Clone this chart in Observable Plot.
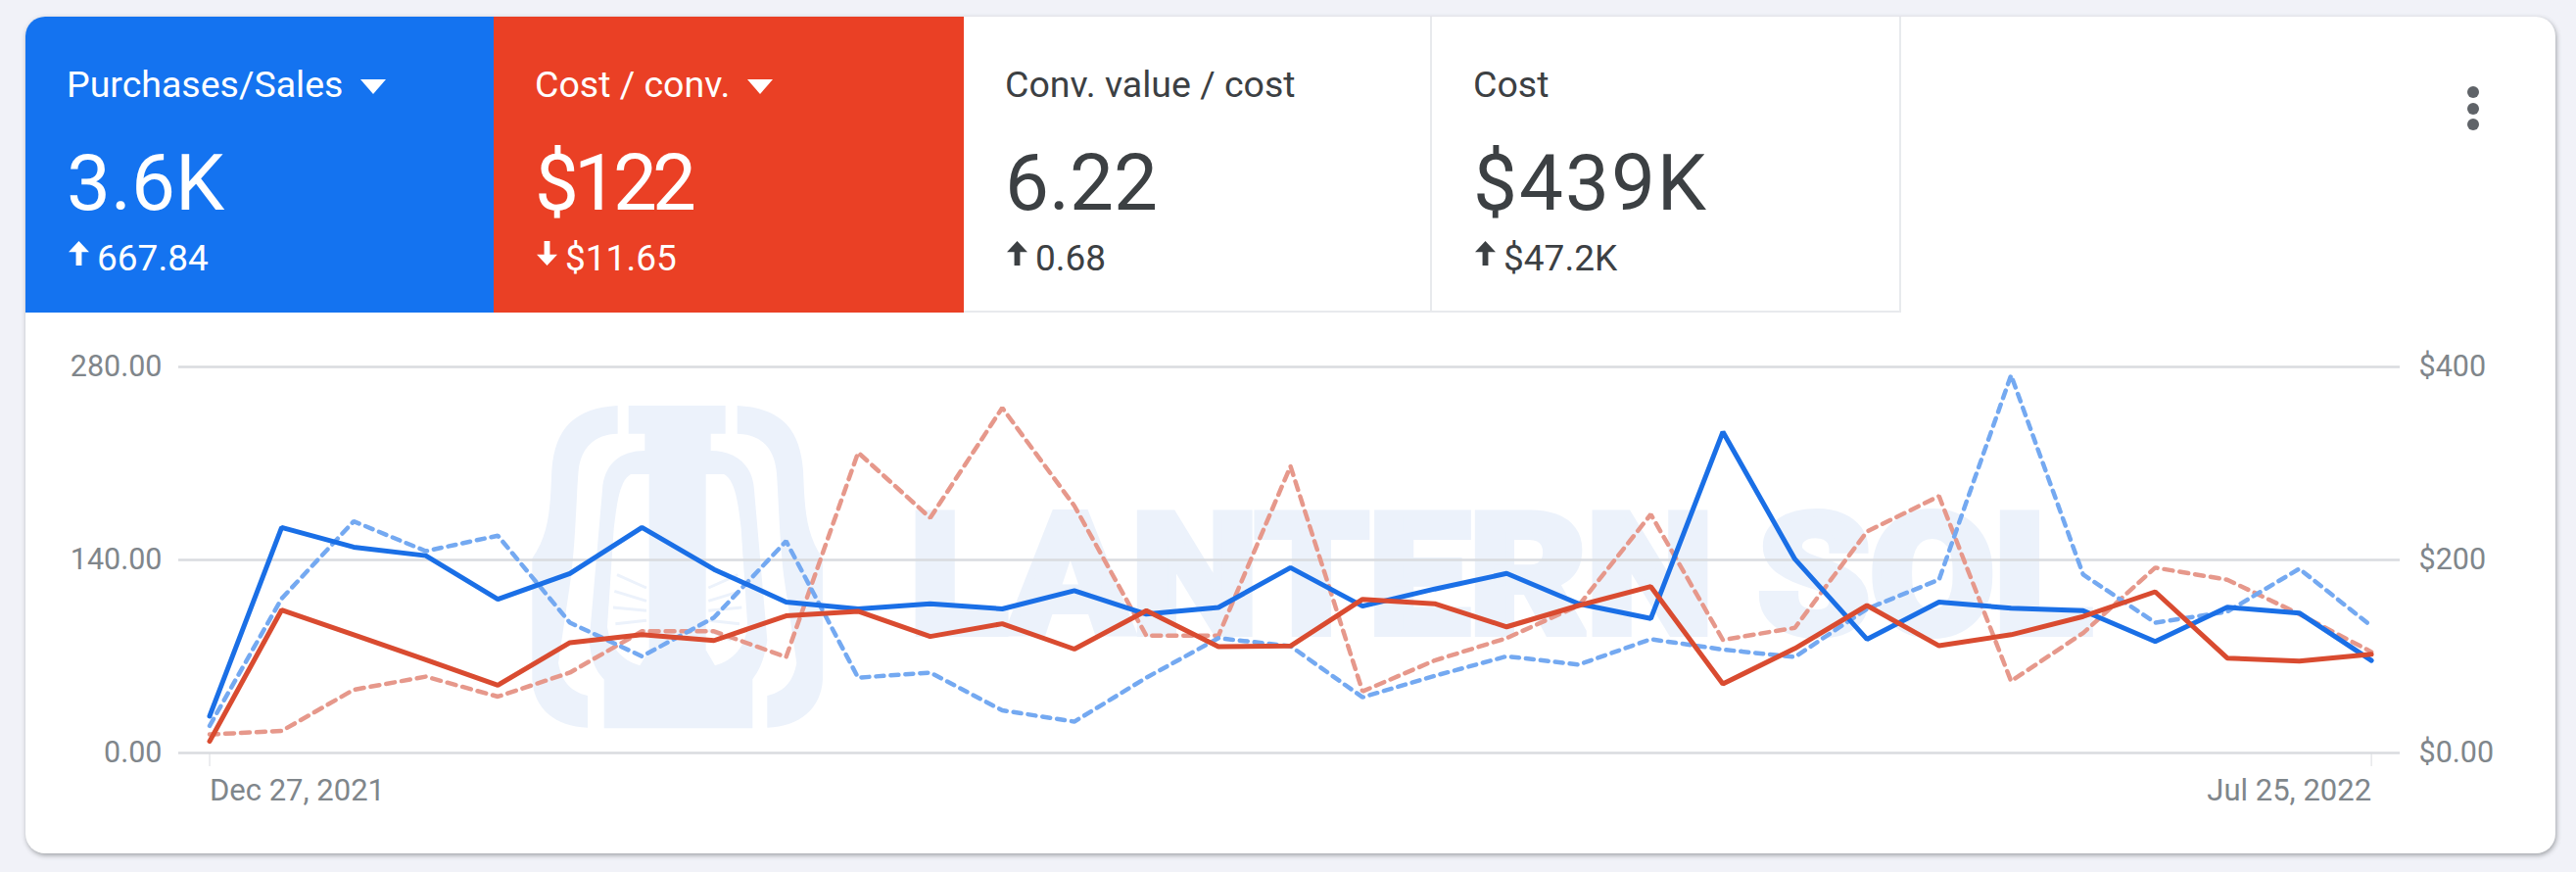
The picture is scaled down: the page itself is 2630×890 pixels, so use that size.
<!DOCTYPE html>
<html>
<head>
<meta charset="utf-8">
<script src="https://cdn.jsdelivr.net/npm/d3@7"></script>
<script src="https://cdn.jsdelivr.net/npm/@observablehq/plot@0.6"></script>
<style>
html,body{margin:0;padding:0;background:#f1f2f8;width:2630px;height:890px;overflow:hidden;font-family:Roboto,sans-serif}
#card{position:absolute;left:26px;top:17px;width:2583px;height:854px;background:#fff;border-radius:20px;box-shadow:1px 2px 5px rgba(60,64,67,.45);overflow:hidden}
.tab{position:absolute;top:0;height:302px;box-sizing:border-box;color:#3c4043}
.tab.white{border-right:2px solid #e8eaed;border-bottom:2px solid #e8eaed}
.tab .lab{position:absolute;left:42px;top:44px;font-size:37.5px;line-height:50px;white-space:nowrap}
.tab .val{position:absolute;left:42px;top:120px;font-size:80px;line-height:100px;white-space:nowrap}
.tab .del{position:absolute;left:73px;top:222px;font-size:37px;line-height:50px;white-space:nowrap}
.tri{position:absolute;top:64px;width:0;height:0;border-left:13px solid transparent;border-right:13px solid transparent;border-top:15px solid #fff}
.arw{position:absolute;left:44px;top:229px;width:21px;height:25px;background:currentColor;clip-path:polygon(50% 0,100% 45%,64% 45%,64% 100%,36% 100%,36% 45%,0 45%)}
.arw.down{clip-path:polygon(36% 0,64% 0,64% 55%,100% 55%,50% 100%,0 55%,36% 55%)}
.dot{position:absolute;left:2493px;width:12px;height:12px;border-radius:50%;background:#5f6368}
#logo{position:absolute;left:494px;top:383px;width:360px;height:360px;background-size:100% 100%}
#mark{position:absolute;left:903px;top:486px;font:900 170px/170px Roboto,sans-serif;color:#ecf2fb;-webkit-text-stroke:8px #ecf2fb;white-space:nowrap;transform-origin:0 0;transform:scaleX(1.08)}
#chart{position:absolute;left:0;top:320px}
#chart svg{background:transparent;display:block}
</style>
</head>
<body>
<div id="card">
  <div id="logo"></div>
  <div id="mark">LANTERN SOL</div>
  <div class="tab" style="left:0;width:478px;background:#1473f0;color:#fff">
    <div class="lab">Purchases/Sales</div><div class="tri" style="left:342px"></div>
    <div class="val">3.6K</div><div class="arw"></div><div class="del">667.84</div>
  </div>
  <div class="tab" style="left:478px;width:480px;background:#ea4025;color:#fff">
    <div class="lab">Cost / conv.</div><div class="tri" style="left:259px"></div>
    <div class="val" style="letter-spacing:-5px">$122</div><div class="arw down"></div><div class="del">$11.65</div>
  </div>
  <div class="tab white" style="left:958px;width:478px">
    <div class="lab">Conv. value / cost</div>
    <div class="val">6.22</div><div class="arw"></div><div class="del">0.68</div>
  </div>
  <div class="tab white" style="left:1436px;width:479px">
    <div class="lab">Cost</div>
    <div class="val" style="letter-spacing:2px">$439K</div><div class="arw"></div><div class="del">$47.2K</div>
  </div>
  <div class="dot" style="top:71px"></div><div class="dot" style="top:88px"></div><div class="dot" style="top:104px"></div>
</div>
<div id="chart"></div>
<script>
const startDate = new Date(Date.UTC(2021, 11, 27));
const endDate = new Date(Date.UTC(2022, 6, 25));
const leftTicks = [0, 140, 280];
const leftLabels = ["0.00", "140.00", "280.00"];
const rightLabels = ["$0.00", "$200", "$400"];
const rightMax = 400;
const leftMax = 280;

const purchases = [26.7,163.6,149.3,143.1,111.5,130.2,163.6,133.1,109.5,104.5,108.2,104.5,117.7,100.7,105.5,134.4,106.5,118.9,130.2,108.2,97.5,232.9,140.6,82.5,109.5,105,103.2,80.8,105.7,101.5,67.1];
const purchasesPrev = [19.7,112,168,146.4,157.6,94.5,70.1,98.2,153.6,54.6,58.3,30.9,22.7,54.6,83.3,77.5,40.4,55.9,70.1,64.1,82.5,75,69.6,104.5,125.7,274,129.4,94.5,102.5,133.6,92];
const costConv = [12.1,148.2,122.5,96.5,70.2,114.3,122.5,116.5,142.1,146.8,120.7,133.9,107.6,147.5,110.1,110.8,159.2,154.6,130.7,152.8,172.4,71.6,108.3,152.8,111.1,122.5,141.4,167,98.3,95.1,102.2];
const costConvPrev = [19.2,22.8,65.5,79.1,58.4,83.3,126.1,126.1,99.4,311.3,243.6,357.6,256.1,121.5,121.5,297.1,63.8,95.8,119,152.8,247.2,117.2,129.7,229.4,266.1,74.4,124.3,192,179.5,143.9,104.7];

const dates = purchases.map((_, i) => d3.utcDay.offset(startDate, 7 * i));
const toLeft = v => v * leftMax / rightMax;
const rowsOf = (arr, conv) => arr.map((v, i) => ({date: dates[i], value: conv ? toLeft(v) : v}));
const fmt = d3.utcFormat("%b %d, %Y");
const axisFont = 30.5;

const plot = Plot.plot({
  width: 2630, height: 550,
  marginTop: 54, marginBottom: 102, marginLeft: 182, marginRight: 180,
  style: {fontFamily: "Roboto, sans-serif", background: "transparent", overflow: "visible"},
  x: {type: "utc", domain: [startDate, endDate], range: [213.5, 2420.6], label: null},
  y: {domain: [0, leftMax], label: null},
  marks: [
    Plot.ruleY(leftTicks, {stroke: "#d9dbdf", strokeWidth: 2.5}),
    Plot.axisY(leftTicks, {anchor: "left", tickSize: 0, tickPadding: 17, fontSize: axisFont, fill: "#80868b", label: null,
      tickFormat: d => leftLabels[leftTicks.indexOf(d)]}),
    Plot.axisY(leftTicks, {anchor: "right", tickSize: 0, tickPadding: 19, fontSize: axisFont, fill: "#80868b", label: null,
      tickFormat: d => rightLabels[leftTicks.indexOf(d)]}),
    Plot.axisX([startDate], {anchor: "bottom", tickSize: 14, tickPadding: 12, fontSize: 31, stroke: "#dadce0", fill: "#80868b", label: null, textAnchor: "start", tickFormat: fmt}),
    Plot.axisX([endDate], {anchor: "bottom", tickSize: 14, tickPadding: 12, fontSize: 31, stroke: "#dadce0", fill: "#80868b", label: null, textAnchor: "end", tickFormat: fmt}),
    Plot.lineY(rowsOf(costConvPrev, true), {x: "date", y: "value", stroke: "#e6988b", strokeWidth: 4.5, strokeDasharray: "9 7", strokeLinejoin: "miter"}),
    Plot.lineY(rowsOf(purchasesPrev, false), {x: "date", y: "value", stroke: "#74a9f1", strokeWidth: 4.5, strokeDasharray: "8 7", strokeLinejoin: "miter"}),
    Plot.lineY(rowsOf(purchases, false), {x: "date", y: "value", stroke: "#1a6fe6", strokeWidth: 5, strokeLinejoin: "miter"}),
    Plot.lineY(rowsOf(costConv, true), {x: "date", y: "value", stroke: "#d94b30", strokeWidth: 5, strokeLinejoin: "miter"})
  ]
});
document.getElementById("chart").appendChild(plot);

const c = "#ecf2fb";
const bracket = "M332 42C200 50 140 110 130 240C125 350 125 430 70 510L70 880C75 970 140 1025 240 1028L240 930C180 915 160 880 150 830L190 560C205 420 205 320 212 240C220 170 260 130 332 128Z";
const windowPath = "M372 252C340 270 330 330 320 420L300 720C310 780 340 820 400 838L428 790L428 252Z";
const rays = "M330 560L420 600M322 610L420 640M318 660L420 670M325 710L420 700M350 760L420 730";
const logoSvg = `<svg xmlns="http://www.w3.org/2000/svg" viewBox="0 0 1080 1080"><path fill="${c}" d="${bracket}"/><path fill="${c}" transform="translate(1030 0) scale(-1 1)" d="${bracket}"/><path fill="${c}" d="M365 42H662V128H617V180C690 180 745 220 750 300L790 760C780 830 760 860 745 880V1030H290V880C270 860 250 830 245 760L285 300C290 220 340 180 415 180V128H365Z"/><path fill="#fff" d="${windowPath}"/><path fill="#fff" transform="translate(1030 0) scale(-1 1)" d="${windowPath}"/><path stroke="${c}" stroke-width="9" d="${rays}"/><path stroke="${c}" stroke-width="9" transform="translate(1030 0) scale(-1 1)" d="${rays}"/></svg>`;
document.getElementById("logo").style.backgroundImage = "url('data:image/svg+xml," + encodeURIComponent(logoSvg) + "')";
</script>
</body>
</html>
